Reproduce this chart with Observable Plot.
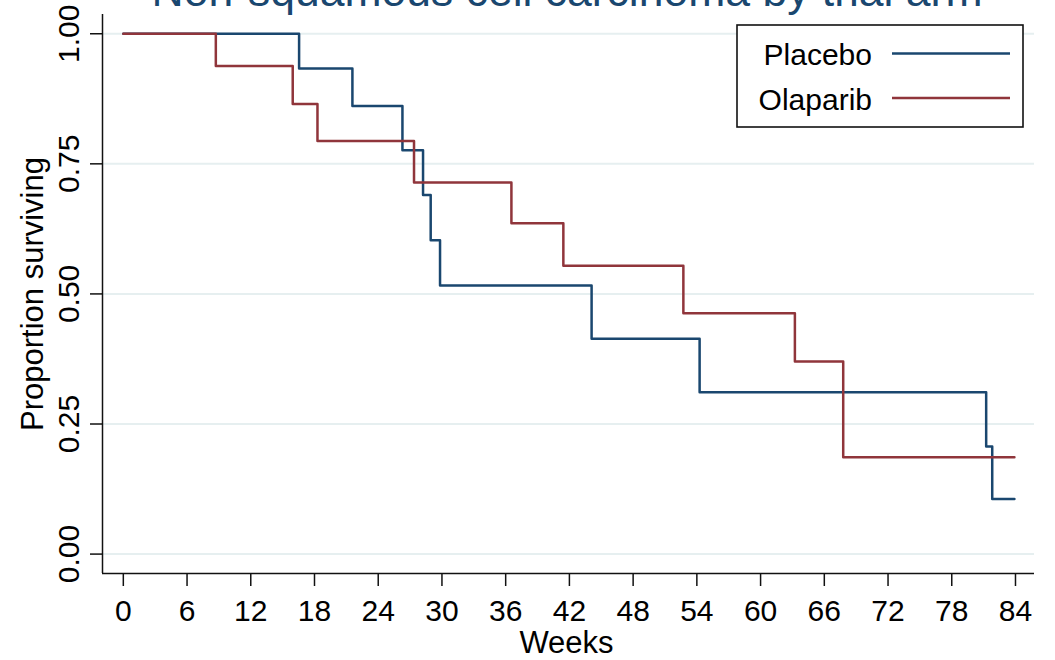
<!DOCTYPE html>
<html>
<head>
<meta charset="utf-8">
<script src="https://cdn.jsdelivr.net/npm/d3@7"></script>
<script src="https://cdn.jsdelivr.net/npm/@observablehq/plot@0.6"></script>
<style>
html, body { margin: 0; padding: 0; background: #fff; }
#wrap { position: relative; width: 1055px; height: 660px; overflow: hidden; font-family: Arial, "Liberation Sans", sans-serif; }
#overlay { position: absolute; left: 0; top: 0; pointer-events: none; }
</style>
</head>
<body>
<div id="wrap"></div>
<script>
// ---- data ----
const titleText = "Non-squamous cell carcinoma by trial arm";
const arms = ["Placebo", "Olaparib"];
const armColors = ["#1a476f", "#90353b"];

const placeboWeeks = [0, 16.55, 21.57, 26.28, 28.22, 28.94, 29.82, 44.09, 54.26, 81.24, 81.81, 83.9];
const placeboSurv  = [1, 0.933, 0.861, 0.776, 0.690, 0.603, 0.516, 0.414, 0.311, 0.207, 0.106, 0.106];

const olaparibWeeks = [0, 8.71, 15.95, 18.28, 27.37, 36.54, 41.43, 52.73, 63.23, 67.78, 83.9];
const olaparibSurv  = [1, 0.938, 0.865, 0.794, 0.714, 0.636, 0.554, 0.463, 0.370, 0.186, 0.186];

const weekTicks = [0, 6, 12, 18, 24, 30, 36, 42, 48, 54, 60, 66, 72, 78, 84];
const survTicks = [0, 0.25, 0.5, 0.75, 1];
const survTickLabels = ["0.00", "0.25", "0.50", "0.75", "1.00"];

const xDomain = [-1.96, 85.79];
const yDomain = [-0.0373, 1.037];

// ---- build table ----
const rows = [
  ...placeboWeeks.map((w, i) => ({arm: arms[0], week: w, surv: placeboSurv[i]})),
  ...olaparibWeeks.map((w, i) => ({arm: arms[1], week: w, surv: olaparibSurv[i]}))
];

const font = "Arial, 'Liberation Sans', sans-serif";

const chart = Plot.plot({
  width: 1055,
  height: 660,
  marginLeft: 102,
  marginRight: 21,
  marginTop: 14,
  marginBottom: 87,
  x: {domain: xDomain},
  y: {domain: yDomain},
  color: {domain: arms, range: armColors},
  style: {fontFamily: font, background: "#fff", color: "#000"},
  marks: [
    Plot.ruleY(survTicks, {stroke: "#e6eff0", strokeWidth: 2}),
    Plot.axisX({ticks: weekTicks, tickSize: 13, tickPadding: 13, fontSize: 30, label: null, strokeWidth: 1.5, stroke: "#111"}),
    Plot.axisY({ticks: survTicks, tickSize: 12, tickFormat: () => "", label: null, strokeWidth: 1.5, stroke: "#111"}),
    Plot.text(survTicks, {y: survTicks, text: survTickLabels, frameAnchor: "left", dx: -24, rotate: -90,
      textAnchor: "middle", lineAnchor: "bottom", fontSize: 30, fill: "#000"}),
    Plot.text(["Proportion surviving"], {frameAnchor: "left", dx: -60, rotate: -90,
      textAnchor: "middle", lineAnchor: "bottom", fontSize: 31, fill: "#000"}),
    Plot.text(["Weeks"], {frameAnchor: "bottom", dx: -2, dy: 79, lineAnchor: "bottom", fontSize: 31, fill: "#000"}),
    Plot.ruleX([xDomain[0]], {stroke: "#111", strokeWidth: 1.5}),
    Plot.ruleY([yDomain[0]], {stroke: "#111", strokeWidth: 1.5}),
    Plot.line(rows, {x: "week", y: "surv", z: "arm", stroke: "arm", curve: "step-after", strokeWidth: 2.5})
  ]
});

const wrap = document.getElementById("wrap");
wrap.appendChild(chart);

// ---- overlay: title (clipped at top, as in the reference) and legend ----
const svg = d3.select(wrap).append("svg")
  .attr("id", "overlay")
  .attr("width", 1055).attr("height", 660)
  .style("font-family", font);

svg.append("text")
  .attr("x", 567).attr("y", 6)
  .attr("text-anchor", "middle")
  .attr("font-size", 44.5)
  .attr("fill", "#1a476f")
  .text(titleText);

const lg = svg.append("g").attr("transform", "translate(737,25)");
lg.append("rect").attr("width", 286).attr("height", 102)
  .attr("fill", "#fff").attr("stroke", "#111").attr("stroke-width", 1.6);
arms.forEach((a, i) => {
  const yLine = 28.5 + i * 44.5;
  lg.append("text").attr("x", 135).attr("y", 40 + i * 45)
    .attr("text-anchor", "end").attr("font-size", 30).attr("fill", "#000").text(a);
  lg.append("line").attr("x1", 155).attr("x2", 273).attr("y1", yLine).attr("y2", yLine)
    .attr("stroke", armColors[i]).attr("stroke-width", 2.5);
});
</script>
</body>
</html>
